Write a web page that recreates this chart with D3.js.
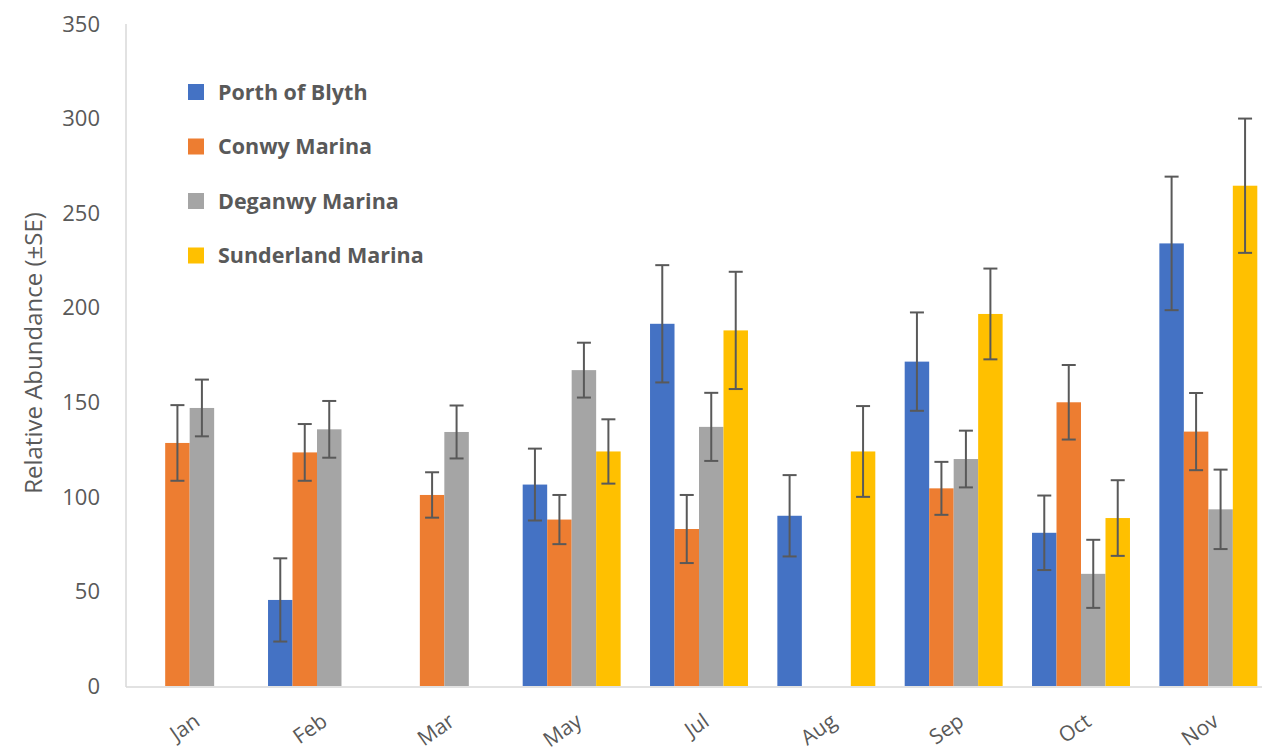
<!DOCTYPE html>
<html>
<head>
<meta charset="utf-8">
<script src="https://cdn.jsdelivr.net/npm/d3@7/dist/d3.min.js"></script>
<style>
	body { margin: 0; background: #fff; }
	text { font-family: "Open Sans", "Noto Sans", sans-serif; fill: #595959; }
</style>
</head>
<body>
<svg id="chart" width="1262" height="753"></svg>
<script>
//Chart values
var months = ["Jan", "Feb", "Mar", "May", "Jul", "Aug", "Sep", "Oct", "Nov"];
var seriesNames = ["Porth of Blyth", "Conwy Marina", "Deganwy Marina", "Sunderland Marina"];
var seriesColors = ["#4472C4", "#ED7D31", "#A5A5A5", "#FFC000"];

var blyth = [null, 45.5, null, 106.5, 191.5, 90, 171.5, 81, 234];
var blythSE = [null, 22, null, 19, 31, 21.5, 26, 19.7, 35.3];
var conwy = [128.5, 123.5, 101, 88, 83, null, 104.5, 150, 134.5];
var conwySE = [20, 15, 12, 13, 18, null, 14, 19.7, 20.4];
var deganwy = [147, 135.7, 134.3, 167, 137, null, 120, 59.3, 93.4];
var deganwySE = [15, 15, 14, 14.5, 18, null, 15, 18, 21];
var sunderland = [null, null, null, 124, 188, 124, 196.7, 88.8, 264.5];
var sunderlandSE = [null, null, null, 17, 31, 24, 24, 20, 35.5];

var yTicks = [0, 50, 100, 150, 200, 250, 300, 350];

var chart = {
	margin: {top: 24, left: 126, bottom: 686, right: 1272},
	draw: function(){
		var self = this;
		var svg = d3.select("#chart");

		var values = [blyth, conwy, deganwy, sunderland],
			errors = [blythSE, conwySE, deganwySE, sunderlandSE];

		//Flatten into one record per bar
		var bars = [];
		months.forEach(function(m, i){
			seriesNames.forEach(function(s, j){
				if (values[j][i] === null) return;
				bars.push({month: m, series: s, idx: j, value: values[j][i], se: errors[j][i]});
			});
		});

		var x = d3.scaleBand().domain(months).range([self.margin.left, self.margin.right]);
		var x1 = d3.scaleBand().domain(seriesNames).range([0, x.bandwidth()]).paddingOuter(0.6);
		var y = d3.scaleLinear().domain([0, 350]).range([self.margin.bottom, self.margin.top]);

		//Axis lines
		svg.append("line")
			.attr("x1", self.margin.left).attr("x2", self.margin.left)
			.attr("y1", y(350)).attr("y2", y(0) + 1)
			.attr("stroke", "#d9d9d9").attr("stroke-width", 1.5);

		//Bars
		svg.append("g").selectAll("rect")
			.data(bars)
			.enter().append("rect")
			.attr("x", function(d){ return x(d.month) + x1(d.series); })
			.attr("y", function(d){ return y(d.value); })
			.attr("width", x1.bandwidth())
			.attr("height", function(d){ return y(0) - y(d.value); })
			.attr("fill", function(d){ return seriesColors[d.idx]; });

		svg.append("line")
			.attr("x1", self.margin.left).attr("x2", 1262)
			.attr("y1", y(0) + 1).attr("y2", y(0) + 1)
			.attr("stroke", "#d9d9d9").attr("stroke-width", 1.5);

		//Error bars
		var err = svg.append("g").attr("stroke", "#595959").attr("stroke-width", 2);
		bars.forEach(function(d){
			var cx = x(d.month) + x1(d.series) + x1.bandwidth() / 2;
			err.append("line")
				.attr("x1", cx).attr("x2", cx)
				.attr("y1", y(d.value + d.se)).attr("y2", y(d.value - d.se));
			[d.value + d.se, d.value - d.se].forEach(function(v){
				err.append("line")
					.attr("x1", cx - 7).attr("x2", cx + 7)
					.attr("y1", y(v)).attr("y2", y(v));
			});
		});

		//Y tick labels
		svg.append("g").selectAll("text")
			.data(yTicks)
			.enter().append("text")
			.attr("x", 100)
			.attr("y", function(d){ return y(d); })
			.attr("dy", "0.35em")
			.attr("text-anchor", "end")
			.attr("font-size", 22)
			.text(function(d){ return d; });

		//X labels, rotated
		svg.append("g").selectAll("text")
			.data(months)
			.enter().append("text")
			.attr("text-anchor", "end")
			.attr("font-size", 21)
			.attr("transform", function(d){
				return "translate(" + (x(d) + x.bandwidth() / 2 + 3) + "," + 712 + ") rotate(-35)";
			})
			.attr("dy", "0.72em")
			.text(function(d){ return d; });

		//Y axis title
		svg.append("text")
			.attr("text-anchor", "middle")
			.attr("font-size", 24)
			.attr("transform", "translate(42," + 353 + ") rotate(-90)")
			.text("Relative Abundance (±SE)");

		self.drawLegend(svg);
	},
	drawLegend: function(svg){
		var legend = svg.append("g");
		seriesNames.forEach(function(name, i){
			var cy = 92 + i * 54.5;
			legend.append("rect")
				.attr("x", 188).attr("y", cy - 8)
				.attr("width", 16).attr("height", 16)
				.attr("fill", seriesColors[i]);
			legend.append("text")
				.attr("x", 218).attr("y", cy)
				.attr("dy", "0.35em")
				.attr("font-size", 21.5)
				.attr("font-weight", "bold")
				.text(name);
		});
	}
};

chart.draw();
</script>
</body>
</html>
